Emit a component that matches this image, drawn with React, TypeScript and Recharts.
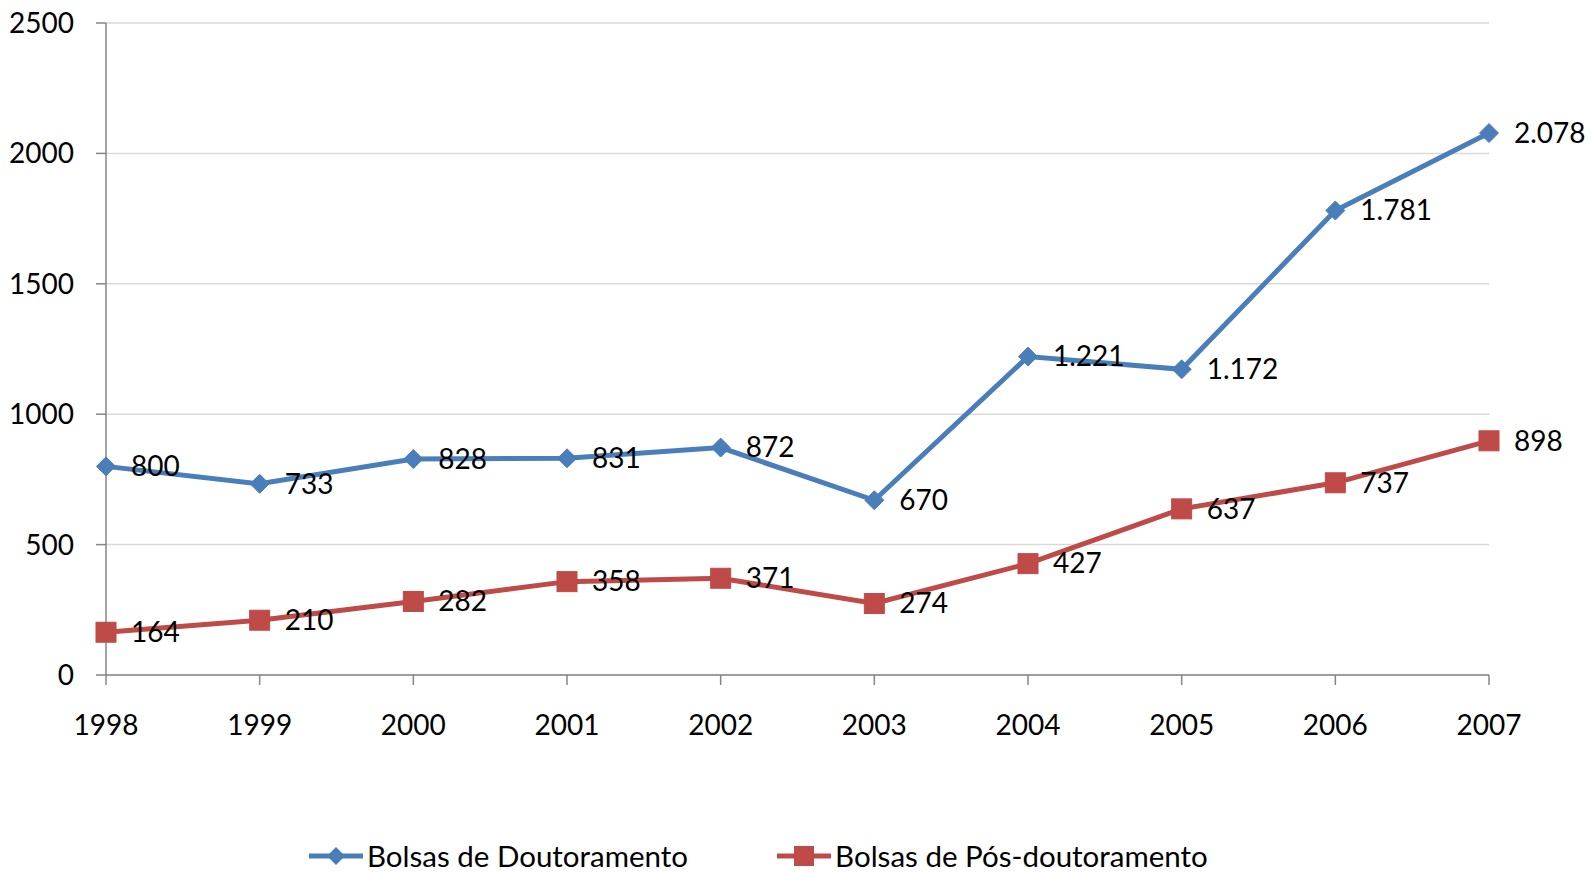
import { LineChart, Line, XAxis, YAxis, CartesianGrid, Legend } from "recharts";

const years = ["1998", "1999", "2000", "2001", "2002", "2003", "2004", "2005", "2006", "2007"];
const doutoramento = [800, 733, 828, 831, 872, 670, 1221, 1172, 1781, 2078];
const posDoutoramento = [164, 210, 282, 358, 371, 274, 427, 637, 737, 898];
const yTicks = [0, 500, 1000, 1500, 2000, 2500];

const BLUE = "#4A7EBB";
const RED = "#BE4B48";
const FONT = "Lato, 'Liberation Sans', sans-serif";

const data = years.map((y, i) => ({
  year: y,
  dout: doutoramento[i],
  pos: posDoutoramento[i],
}));

// Portuguese thousands separator: 1.221
const fmt = (v: number) => String(v).replace(/\B(?=(\d{3})+(?!\d))/g, ".");

const Diamond = (props: any) => {
  const { cx, cy, index } = props;
  if (cx == null || cy == null) return <g key={index} />;
  const r = 9.5;
  return (
    <path
      key={index}
      d={`M${cx},${cy - r}L${cx + r},${cy}L${cx},${cy + r}L${cx - r},${cy}Z`}
      fill={BLUE}
      stroke={BLUE}
      strokeWidth={1}
    />
  );
};

const Square = (props: any) => {
  const { cx, cy, index } = props;
  if (cx == null || cy == null) return <g key={index} />;
  const s = 10;
  return <rect key={index} x={cx - s} y={cy - s} width={s * 2} height={s * 2} fill={RED} stroke={RED} />;
};

const ValueLabel = (props: any) => {
  const { x, y, value } = props;
  return (
    <text x={x + 25} y={y} dy="0.35em" fontSize={28} fontFamily={FONT} fill="#000" textAnchor="start">
      {fmt(value)}
    </text>
  );
};

const LegendContent = () => (
  <div style={{ display: "flex", fontFamily: FONT, fontSize: 29.5, color: "#000", alignItems: "center" }}>
    <svg width={58} height={24} style={{ marginLeft: 309 }}>
      <line x1={0} y1={12} x2={54} y2={12} stroke={BLUE} strokeWidth={5} />
      <path d="M27,3L36,12L27,21L18,12Z" fill={BLUE} />
    </svg>
    <span>Bolsas de Doutoramento</span>
    <svg width={58} height={24} style={{ marginLeft: 89 }}>
      <line x1={0} y1={12} x2={54} y2={12} stroke={RED} strokeWidth={5} />
      <rect x={17} y={2} width={20} height={20} fill={RED} />
    </svg>
    <span>Bolsas de Pós-doutoramento</span>
  </div>
);

export default function App() {
  return (
    <div style={{ position: "absolute", left: 0, top: 0, background: "#fff" }}>
      <LineChart width={1591} height={872} data={data} margin={{ top: 23, right: 102, left: 0, bottom: 81 }}>
        <CartesianGrid vertical={false} stroke="#D9D9D9" strokeWidth={1.5} />
        <XAxis
          dataKey="year"
          stroke="#868686"
          strokeWidth={1.5}
          tickSize={10}
          tickMargin={30}
          height={80}
          tick={{ fontSize: 28, fontFamily: FONT, fill: "#000" }}
          interval={0}
        />
        <YAxis
          domain={[0, 2500]}
          ticks={yTicks}
          stroke="#868686"
          strokeWidth={1.5}
          tickSize={10}
          tickMargin={22}
          width={106}
          tick={{ fontSize: 28, fontFamily: FONT, fill: "#000" }}
        />
        <Legend
          verticalAlign="bottom"
          content={<LegendContent />}
          wrapperStyle={{ top: 838, left: 0, width: 1591, height: 36 }}
        />
        <Line
          type="linear"
          dataKey="dout"
          name="Bolsas de Doutoramento"
          stroke={BLUE}
          strokeWidth={5}
          dot={<Diamond />}
          activeDot={false}
          label={<ValueLabel />}
          isAnimationActive={false}
        />
        <Line
          type="linear"
          dataKey="pos"
          name="Bolsas de Pós-doutoramento"
          stroke={RED}
          strokeWidth={5}
          dot={<Square />}
          activeDot={false}
          label={<ValueLabel />}
          isAnimationActive={false}
        />
      </LineChart>
    </div>
  );
}
